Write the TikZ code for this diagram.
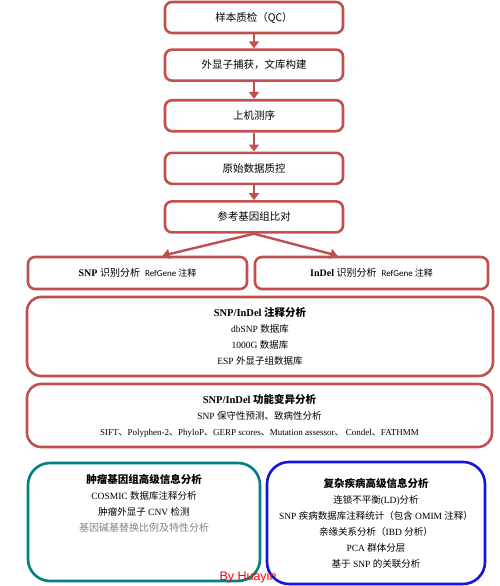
\documentclass[tikz,border=0pt]{standalone}
\usepackage{fontspec}
\setmainfont{Liberation Serif}
\newfontfamily\cjk{Noto Sans CJK SC}
\newfontfamily\calib{Carlito}
\newfontfamily\arialf{Liberation Sans}
\newcommand{\zh}[1]{{\cjk #1}}
\usetikzlibrary{arrows.meta,positioning}
\definecolor{boxred}{RGB}{192,80,77}
\definecolor{tumorteal}{RGB}{0,128,128}
\definecolor{diseaseblue}{RGB}{20,20,225}

\begin{document}
\begin{tikzpicture}[x=1pt, y=-1pt,
  stepbox/.style={rectangle, rounded corners=7pt, draw=boxred, line width=2.6pt,
                  minimum width=178pt, minimum height=31pt, align=center,
                  font=\cjk\fontsize{10.5}{13}\selectfont},
  callbox/.style={rectangle, rounded corners=7pt, draw=boxred, line width=2.6pt,
                  minimum height=32pt, align=center, font=\fontsize{10}{13}\selectfont},
  annobox/.style={rectangle, rounded corners=14pt, draw=boxred, line width=2.6pt,
                  align=center, font=\fontsize{9.5}{16}\selectfont},
  highbox/.style={rectangle, rounded corners=22pt, line width=2.6pt, align=center,
                  font=\fontsize{9.5}{16}\selectfont},
  arr/.style={-{Triangle[width=10pt,length=7pt]}, line width=2.4pt, boxred}
]
  \useasboundingbox (0,0) rectangle (500,586);

  % main pipeline
  \node[stepbox] at (254,17.5) (qc)  {样本质检（QC）};
  \node[stepbox, below=14pt of qc]  (lib)   {外显子捕获，文库构建};
  \node[stepbox, below=17pt of lib] (seq)   {上机测序};
  \node[stepbox, below=19pt of seq] (raw)   {原始数据质控};
  \node[stepbox, below=15pt of raw] (align) {参考基因组比对};

  \draw[arr] (qc)  -- (lib);
  \draw[arr] (lib) -- (seq);
  \draw[arr] (seq) -- (raw);
  \draw[arr] (raw) -- (align);

  % variant calling
  \node[callbox, minimum width=219pt] at (137.5,273) (snp)
    {\textbf{SNP} \zh{识别分析}\hspace{5pt}{\calib\fontsize{9}{12}\selectfont RefGene \zh{注释}}};
  \node[callbox, minimum width=233pt] at (371.5,273) (indel)
    {\textbf{InDel} \zh{识别分析}\hspace{5pt}{\calib\fontsize{9}{12}\selectfont RefGene \zh{注释}}};

  \draw[arr] (align.south) -- ([xshift=25pt]snp.north);
  \draw[arr] (align.south) -- ([xshift=-34pt]indel.north);

  % annotation
  \node[annobox, minimum width=466pt, minimum height=79pt] at (260,336.5) (anno)
    {{\bfseries\fontsize{10.5}{16}\selectfont SNP/InDel \zh{注释分析}}\\
     dbSNP \zh{数据库}\\
     1000G \zh{数据库}\\
     ESP \zh{外显子组数据库}};

  \node[annobox, minimum width=465pt, minimum height=63pt] at (259.5,415.5) (func)
    {{\bfseries\fontsize{10.5}{16}\selectfont SNP/InDel \zh{功能变异分析}}\\
     SNP \zh{保守性预测、致病性分析}\\
     {\fontsize{9}{16}\selectfont SIFT\zh{、}Polyphen-2\zh{、}PhyloP\zh{、}GERP scores\zh{、}Mutation assessor\zh{、} Condel\zh{、}FATHMM}};

  % advanced analysis
  \node[highbox, draw=tumorteal, minimum width=232pt, minimum height=118pt] at (144,522) (tumor) {};
  \node[align=center, font=\fontsize{9.5}{16}\selectfont, below=9pt of tumor.north] (tumortxt)
    {{\bfseries\fontsize{10.5}{16}\selectfont\zh{肿瘤基因组高级信息分析}}\\
     COSMIC \zh{数据库注释分析}\\
     \zh{肿瘤外显子} CNV \zh{检测}\\
     {\color{gray}\fontsize{10}{16}\selectfont\zh{基因碱基替换比例及特性分析}}};

  \node[highbox, draw=diseaseblue, minimum width=218pt, minimum height=122pt] at (376,523) (disease)
    {{\bfseries\fontsize{10.5}{16}\selectfont\zh{复杂疾病高级信息分析}}\\
     \zh{连锁不平衡}(LD)\zh{分析}\\
     SNP \zh{疾病数据库注释统计（包含} OMIM \zh{注释）}\\
     \zh{亲缘关系分析（}IBD \zh{分析）}\\
     PCA \zh{群体分层}\\
     \zh{基于} SNP \zh{的关联分析}};

  \node[text=red, font=\arialf\fontsize{12.5}{14}\selectfont] at (248,577) (credit) {By Huayin};
\end{tikzpicture}
\end{document}
